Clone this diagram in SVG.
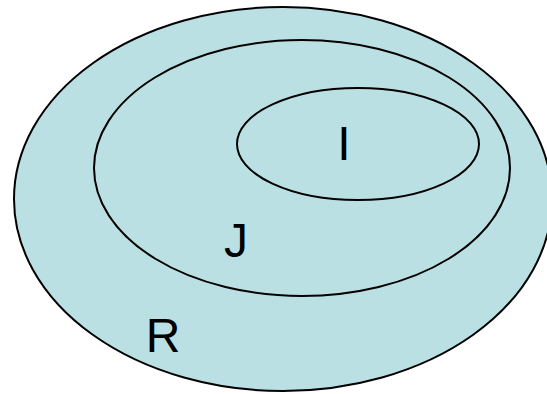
<svg xmlns="http://www.w3.org/2000/svg" width="547" height="394" viewBox="0 0 547 394">
<style>
.set{fill:#BBE0E3;stroke:#000;stroke-width:2}
.lbl{font-family:"Liberation Sans",Arial,sans-serif;font-size:48px;fill:#000;text-anchor:middle}
</style>
<rect width="547" height="394" fill="#fff"/>
<g id="R">
<ellipse class="set" cx="283" cy="199" rx="269" ry="192"/>
<text class="lbl" x="163" y="352">R</text>
</g>
<g id="J">
<ellipse class="set" cx="302" cy="168" rx="208" ry="128"/>
<text class="lbl" x="236" y="257">J</text>
</g>
<g id="I">
<ellipse class="set" cx="358" cy="144" rx="121" ry="56"/>
<text class="lbl" x="344" y="160">I</text>
</g>
<g id="connectors"/>
</svg>
